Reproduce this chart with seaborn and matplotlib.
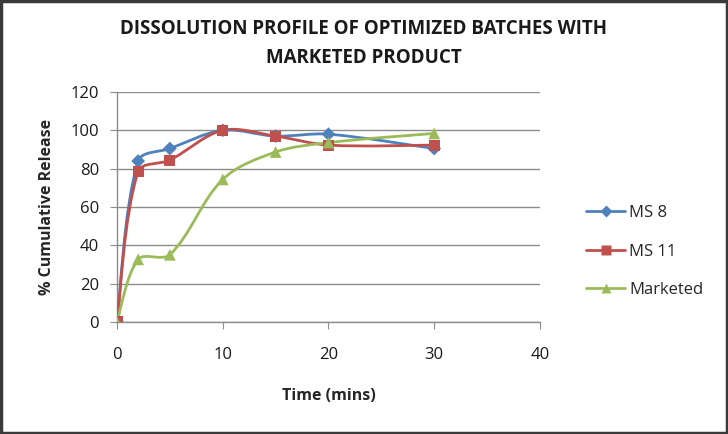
import numpy as np
import pandas as pd
import seaborn as sns
import matplotlib.pyplot as plt
from matplotlib.path import Path
from matplotlib.patches import PathPatch, Rectangle
from matplotlib.lines import Line2D

# data
time_min = [0, 2, 5, 10, 15, 20, 30]
ms8 = [0, 84, 90.5, 100, 97, 98, 90.5]
ms11 = [0, 78.5, 84.5, 100, 97, 92.3, 92.3]
marketed = [0, 32.7, 35.1, 74.4, 88.7, 93.6, 98.4]

series = {"MS 8": ms8, "MS 11": ms11, "Marketed": marketed}
colors = {"MS 8": "#4F81BD", "MS 11": "#C0504D", "Marketed": "#9BBB59"}
markers = {"MS 8": "D", "MS 11": "s", "Marketed": "^"}
msizes = {"MS 8": 7, "MS 11": 8, "Marketed": 8.5}

df = pd.DataFrame({"Time": time_min * 3,
                   "Release": ms8 + ms11 + marketed,
                   "Batch": ["MS 8"] * 7 + ["MS 11"] * 7 + ["Marketed"] * 7})

sns.set_style("white")
plt.rcParams["font.family"] = ["Open Sans", "DejaVu Sans"]

fig = plt.figure(figsize=(7.28, 4.34), dpi=100)
ax = fig.add_axes([0.1607, 0.258, 0.581, 0.530])
ax.set_xlim(0, 40)
ax.set_ylim(0, 120)


def smooth_path(x, y, t=1 / 6):
    # Excel-like smoothed line, tangents weighted by segment length on screen
    x = np.asarray(x, float)
    y = np.asarray(y, float)
    sx, sy = 423 / 40, 230 / 120
    n = len(x)
    seg = np.hypot(np.diff(x) * sx, np.diff(y) * sy)
    out_c, in_c = [], []
    for i in range(n):
        i0, i2 = max(i - 1, 0), min(i + 1, n - 1)
        dx, dy = x[i2] - x[i0], y[i2] - y[i0]
        lp = seg[i - 1] if i > 0 else 0.0
        ln = seg[i] if i < n - 1 else 0.0
        tot = lp + ln if lp + ln > 0 else 1.0
        if i == 0 or i == n - 1:
            fo = fi = t
        else:
            fo = 2 * t * ln / tot
            fi = 2 * t * lp / tot
        out_c.append((x[i] + dx * fo, y[i] + dy * fo))
        in_c.append((x[i] - dx * fi, y[i] - dy * fi))
    verts = [(x[0], y[0])]
    codes = [Path.MOVETO]
    for i in range(n - 1):
        verts += [out_c[i], in_c[i + 1], (x[i + 1], y[i + 1])]
        codes += [Path.CURVE4] * 3
    return Path(verts, codes)


for name, vals in series.items():
    ax.add_patch(PathPatch(smooth_path(time_min, vals), fill=False,
                           edgecolor=colors[name], lw=2, zorder=3))

for name in series:
    sub = df[df["Batch"] == name]
    sns.scatterplot(data=sub, x="Time", y="Release", ax=ax, color=colors[name],
                    marker=markers[name], s=msizes[name] ** 2, edgecolor="none",
                    zorder=4, legend=False)

ax.set_xlim(0, 40)
ax.set_ylim(0, 120)
ax.set_xticks(range(0, 41, 10))
ax.set_yticks(range(0, 121, 20))
ax.yaxis.grid(True, color="#8C8C8C", lw=1)
ax.xaxis.grid(False)
for s in ["top", "right"]:
    ax.spines[s].set_visible(False)
for s in ["left", "bottom"]:
    ax.spines[s].set_color("#8C8C8C")
    ax.spines[s].set_linewidth(1)
ax.tick_params(axis="both", which="both", direction="out", length=5,
               color="#8C8C8C", labelsize=12, labelcolor="#1A1A1A",
               bottom=True, left=True)
ax.tick_params(axis="x", pad=13)
ax.tick_params(axis="y", pad=8)
ax.set_xlabel("Time (mins)", fontsize=11.5, fontweight="bold", labelpad=18)
ax.set_ylabel("% Cumulative Release", fontsize=11.5, fontweight="bold", labelpad=11)

fig.text(0.5, 0.9, "DISSOLUTION PROFILE OF OPTIMIZED BATCHES WITH\nMARKETED PRODUCT",
         ha="center", va="center", fontsize=13.5, fontweight="bold",
         linespacing=1.55, color="#1A1A1A")

handles = [Line2D([0], [0], color=colors[n], lw=2, marker=markers[n],
                  markersize=msizes[n] - 1, markeredgecolor="none")
           for n in series]
fig.legend(handles, list(series), loc="center left",
           bbox_to_anchor=(0.785, 0.42), frameon=False, fontsize=12,
           handlelength=2.3, labelspacing=1.35, handletextpad=0.25)

fig.patches.append(Rectangle((0.002, 0.003), 0.996, 0.994, transform=fig.transFigure,
                             fill=False, edgecolor="#3A3A3A", lw=2.5))

fig.savefig("out.png", dpi=100)
